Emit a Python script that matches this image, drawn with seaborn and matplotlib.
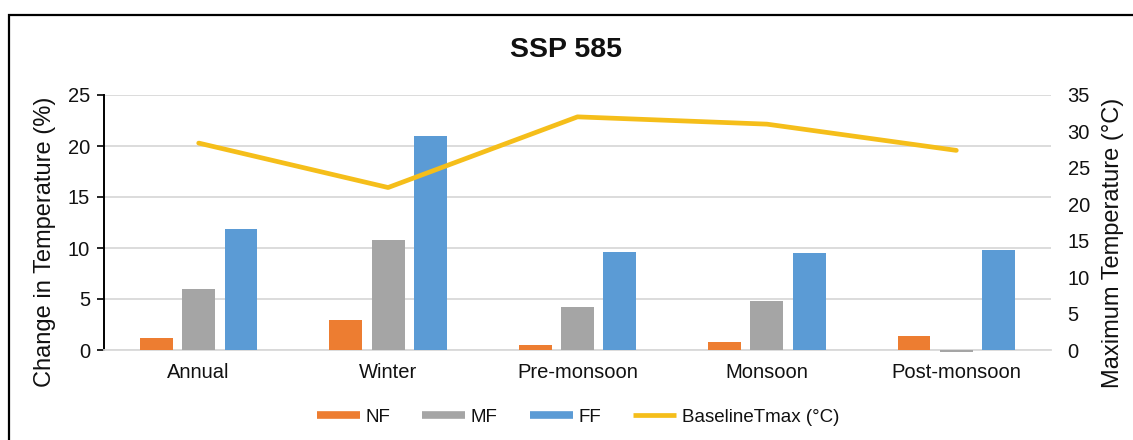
import numpy as np
import pandas as pd
import matplotlib
matplotlib.use("Agg")
import matplotlib.pyplot as plt
from matplotlib.lines import Line2D
from matplotlib.patches import Rectangle
import seaborn as sns

# Seasonal temperature change for SSP 585 by future period
categories = ["Annual", "Winter", "Pre-monsoon", "Monsoon", "Post-monsoon"]
periods = ["NF", "MF", "FF"]
nf_change = [1.2, 2.9, 0.5, 0.8, 1.4]
mf_change = [6.0, 10.8, 4.25, 4.8, -0.15]
ff_change = [11.9, 21.0, 9.65, 9.55, 9.85]
baseline_tmax = [28.4, 22.3, 32.0, 31.0, 27.4]

period_colors = {"NF": "#ED7D31", "MF": "#A5A5A5", "FF": "#5B9BD5"}
line_color = "#F5BE1A"
grid_color = "#D9D9D9"
text_color = "#111111"

sns.set_style("white")
plt.rcParams["font.family"] = ["Liberation Sans", "DejaVu Sans"]
plt.rcParams["text.color"] = text_color
plt.rcParams["xtick.color"] = text_color
plt.rcParams["ytick.color"] = text_color

df = pd.DataFrame({
    "Season": np.repeat(categories, len(periods)),
    "Period": periods * len(categories),
    "Change": np.ravel(np.column_stack([nf_change, mf_change, ff_change])),
})

W, H = 1133, 440
fig = plt.figure(figsize=(W / 100, H / 100), dpi=100)
ax = fig.add_axes([104 / W, 1 - 350 / H, (1051 - 104) / W, (350 - 95) / H])

sns.barplot(data=df, x="Season", y="Change", hue="Period", order=categories,
            hue_order=periods, palette=period_colors, width=0.67, gap=0.22,
            saturation=1, legend=False, ax=ax, zorder=3,
            linewidth=0, edgecolor="none")
for p in ax.patches:
    p.set_clip_on(False)

ax.set_ylim(0, 25)
ax.set_yticks(np.arange(0, 26, 5))
ax.set_xlim(-0.5, len(categories) - 0.5)
ax.yaxis.grid(True, color=grid_color, linewidth=1.3, zorder=0)
ax.set_axisbelow(True)
for s in ["top", "right"]:
    ax.spines[s].set_visible(False)
ax.spines["left"].set_color("black")
ax.spines["left"].set_linewidth(1.4)
ax.spines["bottom"].set_color(grid_color)
ax.spines["bottom"].set_linewidth(1.3)
ax.tick_params(axis="y", direction="out", length=5, width=1.2, color="black",
               labelsize=14.5, pad=5)
ax.tick_params(axis="x", length=0, labelsize=14.5, pad=9)
ax.set_xlabel("")
ax.set_ylabel("")

ax2 = ax.twinx()
sns.lineplot(x=np.arange(len(categories)), y=baseline_tmax, color=line_color,
             linewidth=3.4, ax=ax2, zorder=4)
ax2.set_ylim(0, 35)
ax2.set_yticks(np.arange(0, 36, 5))
for s in ax2.spines.values():
    s.set_visible(False)
ax2.tick_params(axis="y", length=0, labelsize=14.5, pad=12)
ax2.set_ylabel("")
ax2.set_xlim(-0.5, len(categories) - 0.5)

# axis titles
fig.text(45 / W, 1 - 242 / H, "Change in Temperature (%)", rotation=90,
         ha="center", va="center", fontsize=17)
fig.text(1113 / W, 1 - 243 / H, "Maximum Temperature (°C)", rotation=90,
         ha="center", va="center", fontsize=17)

fig.text(0.5, 1 - 50 / H, "SSP 585", ha="center", va="center",
         fontsize=20.5, fontweight="bold")

handles = [Line2D([], [], color=period_colors[p], linewidth=5.5, solid_capstyle="butt")
           for p in periods]
handles.append(Line2D([], [], color=line_color, linewidth=3.4, solid_capstyle="butt"))
labels = periods + ["BaselineTmax (°C)"]
fig.legend(handles, labels, loc="center", bbox_to_anchor=(0.51, 1 - 417 / H),
           ncol=4, frameon=False, fontsize=13.5, handlelength=2.3,
           handletextpad=0.3, columnspacing=1.7)

# chart border
fig.patches.append(Rectangle((9 / W, -0.05), 1.2, 1 - 15 / H + 0.05,
                             transform=fig.transFigure, fill=False,
                             edgecolor="black", linewidth=1.6))

fig.savefig("out.png", dpi=100)
